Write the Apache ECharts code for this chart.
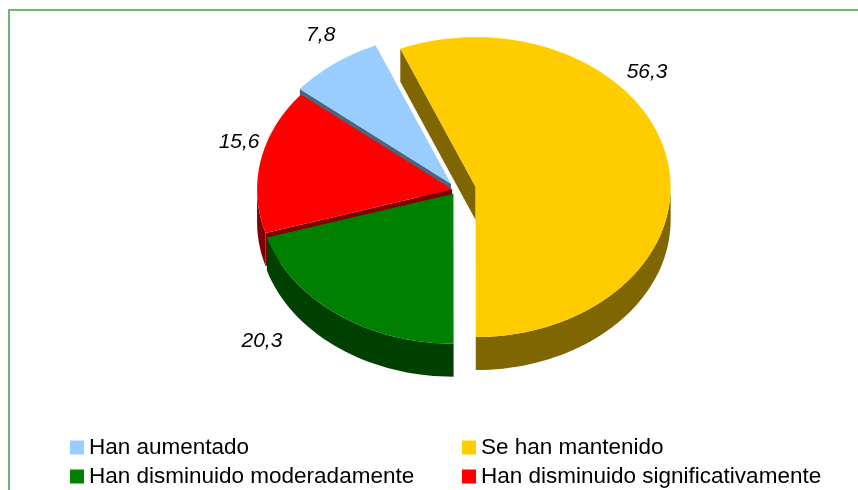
<!DOCTYPE html>
<html>
<head>
<meta charset="utf-8">
<script src="https://cdn.jsdelivr.net/npm/echarts@6/dist/echarts.min.js"></script>
<style>
html, body { margin: 0; padding: 0; background: #fff; }
#chart { width: 858px; height: 490px; }
</style>
</head>
<body>
<div id="chart"></div>
<script>
// datos del gráfico
var categories = ['Han aumentado', 'Se han mantenido', 'Han disminuido moderadamente', 'Han disminuido significativamente'];
var values = [7.8, 56.3, 20.3, 15.6];
var labels = ['7,8', '56,3', '20,3', '15,6'];

// colores: cara superior y lateral
var topColors = ['#99ccff', '#ffcc00', '#008000', '#ff0000'];
var sideColors = ['#4d6680', '#806600', '#004000', '#800000'];

// geometría de la torta 3D
var cx = 457, cy = 190, rx = 195, ry = 150, depth = 33;
var firstAngle = 309.2;
var explode = [10, 19, 6, 5];
var labelAt = [[326.1, 1.198], [48.9, 1.167], [225, 1.389], [286.1, 1.137]];
// posición de cada entrada de la leyenda
var legendPos = [[65, 431], [457, 431], [65, 460], [457, 460]];

var total = values.reduce(function (a, b) { return a + b; }, 0);
var rad = Math.PI / 180;

function pt(v, a, r) {
    return [v[0] + r * rx * Math.sin(a * rad), v[1] - r * ry * Math.cos(a * rad)];
}
function arc(v, a0, a1, dy) {
    var pts = [];
    var n = Math.max(2, Math.ceil(Math.abs(a1 - a0) / 2));
    for (var i = 0; i <= n; i++) {
        var p = pt(v, a0 + (a1 - a0) * i / n, 1);
        pts.push([p[0], p[1] + dy]);
    }
    return pts;
}

var renderSlice = function (params, api) {
    var k = params.seriesIndex;
    var val = api.value(0);
    var before = 0;
    for (var j = 0; j < k; j++) before += values[j];
    var a0 = firstAngle + before / total * 360;
    var a1 = a0 + val / total * 360;
    var mid = (a0 + a1) / 2;
    var v = [cx + explode[k] * Math.sin(mid * rad), cy - explode[k] * Math.cos(mid * rad) * ry / rx];
    var children = [];

    // cara superior
    children.push({
        type: 'polygon', z2: 30,
        shape: { points: [v].concat(arc(v, a0, a1, 0)) },
        style: { fill: topColors[k] }
    });
    // caras radiales
    if (Math.sin(a0 * rad) < -0.01) {
        var e = pt(v, a0, 1);
        children.push({
            type: 'polygon', z2: 10,
            shape: { points: [v, e, [e[0], e[1] + depth], [v[0], v[1] + depth]] },
            style: { fill: sideColors[k] }
        });
    }
    if (Math.sin(a1 * rad) > 0.01) {
        var e2 = pt(v, a1, 1);
        children.push({
            type: 'polygon', z2: 10,
            shape: { points: [v, e2, [e2[0], e2[1] + depth], [v[0], v[1] + depth]] },
            style: { fill: sideColors[k] }
        });
    }
    // lateral curvo (mitad frontal)
    [0, 360, 720].forEach(function (n) {
        var s = Math.max(a0, 90 + n), t = Math.min(a1, 270 + n);
        if (t - s > 0.1) {
            children.push({
                type: 'polygon', z2: 20,
                shape: { points: arc(v, s, t, 0).concat(arc(v, t, s, depth)) },
                style: { fill: sideColors[k] }
            });
        }
    });
    // etiqueta
    var lp = pt(v, labelAt[k][0], labelAt[k][1]);
    children.push({
        type: 'text', z2: 40, x: lp[0], y: lp[1],
        style: {
            text: labels[k], fill: '#000', fontSize: 21, fontStyle: 'italic',
            fontFamily: 'Liberation Sans', align: 'center', verticalAlign: 'middle'
        }
    });
    return { type: 'group', children: children };
};

var myChart = echarts.init(document.getElementById('chart'));

myChart.setOption({
    animation: false,
    graphic: [{
        type: 'rect', z: -10,
        shape: { x: 9, y: 10, width: 900, height: 600 },
        style: { fill: 'none', stroke: '#6db86d', lineWidth: 2 }
    }],
    legend: categories.map(function (name, k) {
        return {
            left: legendPos[k][0], top: legendPos[k][1],
            itemWidth: 14, itemHeight: 14, icon: 'rect', selectedMode: false,
            data: [name],
            textStyle: { fontSize: 22.5, color: '#000', fontFamily: 'Liberation Sans' }
        };
    }),
    series: categories.map(function (name, k) {
        return {
            type: 'custom', name: name, coordinateSystem: 'none', silent: true,
            itemStyle: { color: topColors[k] },
            data: [[values[k]]],
            renderItem: renderSlice
        };
    })
});
</script>
</body>
</html>
